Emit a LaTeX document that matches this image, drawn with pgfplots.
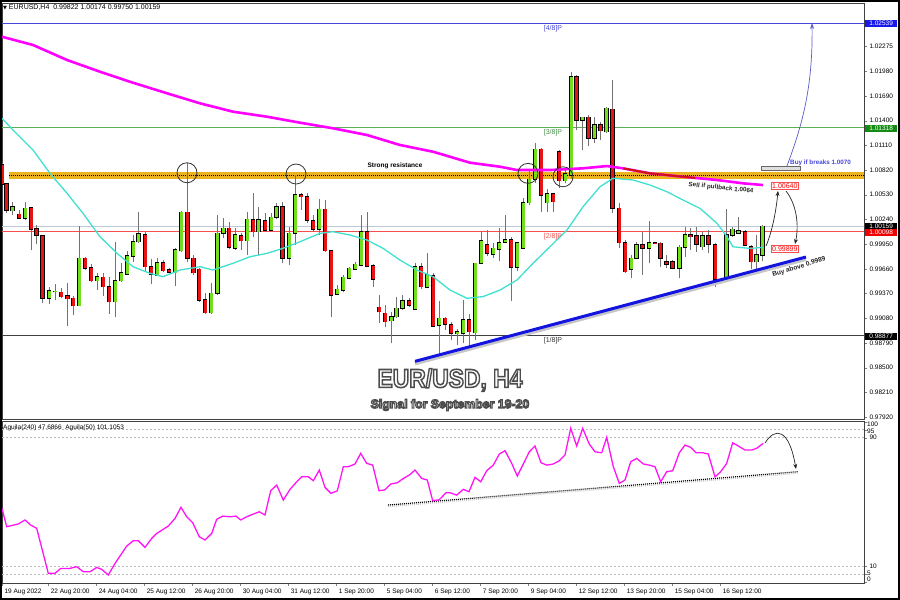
\documentclass[border=0pt]{standalone}
\usepackage{fontspec}
\setmainfont{Liberation Sans}
\newfontfamily\dejavu{DejaVu Sans}
\newfontfamily\titlebig[FakeBold=6]{Liberation Sans Bold}
\newfontfamily\titlesmall[FakeBold=9]{Liberation Sans Bold}
\usepackage{pgfplots}
\pgfplotsset{compat=1.18}
\usepackage{pgfplotstable}
\usetikzlibrary{arrows.meta}

\definecolor{bull}{RGB}{115,222,30}
\definecolor{bear}{RGB}{230,20,20}
\definecolor{maslow}{RGB}{255,0,255}
\definecolor{mafast}{RGB}{64,224,208}
\definecolor{lvlblue}{RGB}{70,70,220}
\definecolor{lvlgreen}{RGB}{90,175,90}
\definecolor{lvlred}{RGB}{245,80,80}
\definecolor{lastpx}{RGB}{190,200,215}
\definecolor{resist}{RGB}{235,180,30}
\definecolor{trend}{RGB}{20,20,225}
\definecolor{aguila}{RGB}{255,20,245}
\definecolor{arrowblue}{RGB}{90,90,200}

% H4 candles: x = bar position, o h l c = prices
\pgfplotstableread{
x o h l c
12.7 1.00342 1.00448 1.00292 1.00389
25 1.00253 1.00448 1.00233 1.00371
49 0.99314 0.99450 0.99247 0.99403
55 0.99391 0.99482 0.99294 0.99396
79 0.99227 1.00163 0.99224 0.99784
97 0.99521 0.99607 0.99411 0.99568
115 0.99274 0.99978 0.99091 0.99521
121 0.99521 0.99725 0.99509 0.99615
127 0.99599 0.99873 0.99588 0.99811
133 0.99811 1.00057 0.99744 0.99978
138.7 0.99978 1.00331 0.99960 1.00069
157 0.99588 0.99784 0.99576 0.99732
175 0.99615 0.99901 0.99458 0.99881
181 0.99873 1.00339 0.99861 1.00324
211 0.99145 0.99497 0.99130 0.99373
217.3 0.99373 1.00292 0.99353 1.00077
223.3 1.00077 1.00253 1.00018 1.00136
235 0.99901 1.00136 0.99881 1.00057
247 0.99990 1.00331 0.99822 1.00241
258.7 1.00096 1.00389 0.99822 1.00233
271 1.00116 1.00312 1.00108 1.00265
276.7 1.00265 1.00436 1.00241 1.00389
289 0.99784 1.00155 0.99705 1.00077
295 1.00077 1.00762 0.99940 1.00527
319 1.00124 1.00476 1.00057 1.00359
337 0.99361 0.99470 0.99353 0.99420
343 0.99411 0.99588 0.99391 0.99560
349 0.99549 0.99678 0.99537 0.99666
355 0.99658 0.99744 0.99646 0.99713
361 0.99705 1.00292 0.99693 1.00096
391.7 0.99051 0.99157 0.98786 0.99098
396.7 0.99098 0.99333 0.99083 0.99197
402.7 0.99197 0.99353 0.99177 0.99286
415 0.99185 0.99725 0.99177 0.99685
427 0.99443 0.99849 0.99431 0.99588
439 0.99001 0.99286 0.98660 0.99079
457 0.98898 0.98950 0.98766 0.98922
463 0.98903 0.99294 0.98786 0.99059
475 0.98910 0.99732 0.98824 0.99725
481 0.99725 1.00108 0.99717 0.99987
493 0.99834 0.99960 0.99784 0.99901
499 0.99889 1.00136 0.99755 0.99967
505 0.99971 1.00292 0.99960 0.99998
517 0.99678 0.99978 0.99638 0.99967
523 0.99901 1.00488 0.99889 1.00436
529 1.00436 1.00828 1.00409 1.00711
535 1.00711 1.01141 1.00664 1.01063
547 1.00436 1.00594 1.00331 1.00538
565 1.00695 1.00840 1.00664 1.00773
571 1.00762 1.01974 1.00726 1.01916
582.7 1.01407 1.01446 1.01055 1.01439
594.3 1.01192 1.01446 1.01141 1.01349
606.7 1.01270 1.01563 1.01251 1.01545
631 0.99654 0.99822 0.99549 0.99784
636.7 0.99784 0.99978 0.99772 0.99940
649 0.99901 1.00225 0.99725 0.99967
679.3 0.99666 0.99940 0.99549 0.99913
685 0.99913 1.00155 0.99802 1.00057
702.7 0.99920 1.00096 0.99881 1.00045
726.7 0.99537 1.00359 0.99529 1.00057
732.7 1.00057 1.00155 1.00037 1.00124
738.3 1.00077 1.00268 1.00069 1.00108
756.7 0.99744 1.00057 0.99654 0.99822
762.7 0.99822 1.00174 0.99750 1.00159
}\bulltab

\pgfplotstableread{
x o h l c
2 1.00879 1.00902 1.00644 1.00656
6.7 1.00656 1.00668 1.00312 1.00351
19 1.00300 1.00351 1.00241 1.00253
31 1.00378 1.00386 0.99881 1.00124
36.7 1.00128 1.00175 0.99948 1.00057
42.7 1.00045 1.00057 0.99262 0.99314
61 0.99384 0.99431 0.99314 0.99333
67.3 0.99341 0.99490 0.98992 0.99309
73 0.99314 0.99341 0.99118 0.99227
85 0.99784 0.99802 0.99646 0.99666
91 0.99673 0.99717 0.99509 0.99521
103 0.99560 0.99607 0.99341 0.99450
109 0.99450 0.99560 0.99130 0.99274
145 1.00057 1.00096 0.99626 0.99685
151 0.99685 0.99772 0.99482 0.99599
163 0.99732 0.99764 0.99623 0.99638
169 0.99646 0.99666 0.99607 0.99619
187.3 1.00324 1.00899 0.99744 0.99784
193.3 0.99784 0.99822 0.99588 0.99615
199 0.99654 0.99670 0.99274 0.99294
205 0.99294 0.99373 0.99130 0.99145
229 1.00136 1.00213 0.99889 0.99913
241 1.00045 1.00077 0.99881 0.99990
253 1.00233 1.00547 1.00037 1.00096
265 1.00225 1.00312 1.00096 1.00116
282.7 1.00389 1.00448 0.99725 0.99784
301 1.00527 1.00547 1.00351 1.00507
307 1.00507 1.00547 1.00195 1.00233
313 1.00222 1.00292 1.00096 1.00124
325 1.00359 1.00468 0.99858 0.99873
331 0.99873 0.99881 0.99098 0.99353
367 1.00096 1.00331 0.99681 0.99693
373 0.99693 0.99717 0.99450 0.99537
379 0.99208 0.99353 0.99020 0.99157
385 0.99138 0.99235 0.98981 0.99039
409 0.99286 0.99314 0.99215 0.99235
421 0.99685 0.99725 0.99420 0.99450
433 0.99576 0.99607 0.98981 0.98989
445 0.99079 0.99098 0.98942 0.99012
451 0.99001 0.99039 0.98824 0.98903
469 0.99059 0.99130 0.98754 0.98922
487 0.99940 1.00116 0.99811 0.99842
511 0.99998 1.00030 0.99286 0.99678
541 1.01063 1.01075 1.00331 1.00527
553 1.00538 1.00547 1.00331 1.00448
559 1.01035 1.01055 1.00605 1.00695
576.7 1.01916 1.01936 1.01290 1.01407
588.3 1.01439 1.01466 1.01102 1.01192
600.7 1.01349 1.01387 1.01172 1.01282
612.7 1.01533 1.01877 1.00312 1.00371
619 1.00371 1.00429 0.99901 0.99967
625 0.99967 0.99998 0.99615 0.99626
642.7 0.99940 1.00096 0.99588 0.99901
655 0.99967 0.99978 0.99951 0.99963
660.7 0.99960 0.99978 0.99685 0.99784
666.7 0.99744 0.99822 0.99666 0.99713
672.7 0.99744 0.99764 0.99654 0.99666
690.7 1.00057 1.00136 0.99881 1.00037
696.7 1.00045 1.00155 0.99861 0.99951
708.3 1.00045 1.00116 0.99842 0.99951
715 0.99940 0.99960 0.99450 0.99537
745 1.00096 1.00116 0.99928 0.99940
751 0.99920 0.99940 0.99654 0.99744
}\beartab

\pgfplotsset{
  candlebar/.style 2 args={only marks, mark size=0pt,
    mark options={draw=none, fill=none},
    error bars/.cd, y dir=plus, y explicit, error mark=none,
    error bar style={line width=#1, draw=#2}},
}

% white glyphs stroked in dark grey (fill colour, stroke colour)
\newcommand{\outlinedtext}[1]{\special{pdf:bcolor [1 1 1] [0.3 0.3 0.3]}#1\special{pdf:ecolor}}

\begin{document}
\begin{tikzpicture}

% ---------------- price panel ----------------
\begin{axis}[
    at={(2pt,-3pt)}, anchor=north west,
    scale only axis, width=862pt, height=416pt,
    xmin=2, xmax=864, ymin=0.97897, ymax=1.02781,
    axis line style={black!75, line width=0.6pt},
    xtick=\empty,
    ytick pos=right, yticklabel pos=right,
    tick align=outside, major tick length=3pt,
    ytick={1.02275,1.01980,1.01690,1.01400,1.01110,1.00820,1.00530,1.00240,
           0.99950,0.99660,0.99370,0.99080,0.98790,0.98500,0.98210,0.97920},
    yticklabels={1.02275,1.01980,1.01690,1.01400,1.01110,1.00820,1.00530,1.00240,
           0.99950,0.99660,0.99370,0.99080,0.98790,0.98500,0.98210,0.97920},
    yticklabel style={font=\fontsize{6.5}{7}\selectfont, xshift=-1pt},
]
% Murrey levels and last price
\addplot[lvlblue, line width=0.8pt] coordinates {(2,1.02539) (864,1.02539)};
\addplot[lvlgreen, line width=0.8pt] coordinates {(2,1.01318) (864,1.01318)};
\addplot[lastpx, line width=0.8pt] coordinates {(2,1.00159) (864,1.00159)};
\addplot[lvlred, line width=0.8pt] coordinates {(2,1.00098) (864,1.00098)};
\addplot[black!75, line width=0.8pt] coordinates {(2,0.98877) (864,0.98877)};

% strong resistance band
\addplot[resist, line width=7pt] coordinates {(9,1.00756) (864,1.00756)};
\addplot[black, line width=1.3pt, dash pattern=on 1pt off 1pt] coordinates {(9,1.00756) (864,1.00756)};

% candles: wicks, outlines, bodies
\addplot[candlebar={0.7pt}{black!55}] table[x=x, y=l, y error expr=\thisrow{h}-\thisrow{l}] {\bulltab};
\addplot[candlebar={0.7pt}{black!55}] table[x=x, y=l, y error expr=\thisrow{h}-\thisrow{l}] {\beartab};
\addplot[candlebar={4.6pt}{black}] table[x=x, y expr=\thisrow{o}-0.00007, y error expr=\thisrow{c}-\thisrow{o}+0.00014] {\bulltab};
\addplot[candlebar={3.0pt}{bull}] table[x=x, y=o, y error expr=\thisrow{c}-\thisrow{o}] {\bulltab};
\addplot[candlebar={4.6pt}{black}] table[x=x, y expr=\thisrow{c}-0.00007, y error expr=\thisrow{o}-\thisrow{c}+0.00014] {\beartab};
\addplot[candlebar={3.0pt}{bear}] table[x=x, y=c, y error expr=\thisrow{o}-\thisrow{c}] {\beartab};

% moving averages
\addplot[maslow, line width=2.6pt] coordinates {
 (2,1.02385) (33,1.02288) (67,1.02112) (100,1.01974) (133,1.01845) (167,1.01721)
 (200,1.01603) (233,1.01505) (267,1.01446) (300,1.01376) (333,1.01310) (367,1.01231)
 (400,1.01114) (433,1.01035) (450,1.00976) (470,1.00906) (500,1.00859) (517,1.00820)
 (550,1.00820) (583,1.00840) (607,1.00867) (623,1.00840) (650,1.00781) (683,1.00741)
 (717,1.00703) (743,1.00664) (763,1.00644)};
\addplot[bear!90!black, line width=2pt] coordinates {
 (623,1.00840) (650,1.00781) (683,1.00741) (695,1.00728)};
\addplot[mafast, line width=1.3pt] coordinates {
 (2,1.01427) (13,1.01290) (33,1.01055) (50,1.00781) (67,1.00547) (83,1.00312)
 (100,1.00037) (117,0.99843) (133,0.99685) (150,0.99607) (163,0.99568) (180,0.99646)
 (200,0.99685) (213,0.99646) (233,0.99725) (250,0.99802) (267,0.99842) (283,0.99901)
 (300,0.99978) (320,1.00077) (333,1.00096) (350,1.00057) (367,0.99998) (383,0.99901)
 (400,0.99763) (417,0.99646) (433,0.99568) (450,0.99411) (467,0.99314) (483,0.99334)
 (500,0.99411) (517,0.99529) (533,0.99725) (550,0.99920) (567,1.00116) (583,1.00389)
 (600,1.00624) (613,1.00723) (633,1.00703) (650,1.00644) (667,1.00565) (683,1.00468)
 (700,1.00370) (717,1.00194) (727,1.00037) (733,0.99919) (750,0.99900) (763,0.99912)};

% touches of the resistance
\addplot[only marks, mark=o, mark size=10pt, black!80, mark options={line width=0.8pt}]
  coordinates {(187,1.00788) (296,1.00773) (528,1.00781) (563,1.00741)};

% rising trend line
\addplot[gray!45, line width=3pt, yshift=-2.5pt] coordinates {(415,0.98574) (806,0.99799)};
\addplot[trend, line width=3pt] coordinates {(415,0.98574) (806,0.99799)};
\end{axis}

% ---------------- indicator panel ----------------
\begin{axis}[
    at={(2pt,-421pt)}, anchor=north west,
    scale only axis, width=862pt, height=162pt,
    xmin=2, xmax=864, ymin=-0.6, ymax=100.4,
    axis line style={black!75, line width=0.6pt},
    xtick pos=bottom, ytick pos=right, yticklabel pos=right,
    tick align=outside, major tick length=3pt,
    xtick={2,48.3,96.3,144.3,192.3,240.3,288.3,336.3,384.3,432.3,480.3,528.3,576.3,624.3,672.3,720.3},
    xticklabels={19 Aug 2022,22 Aug 20:00,24 Aug 04:00,25 Aug 12:00,26 Aug 20:00,30 Aug 04:00,
      31 Aug 12:00,1 Sep 20:00,5 Sep 04:00,6 Sep 12:00,7 Sep 20:00,9 Sep 04:00,12 Sep 12:00,
      13 Sep 20:00,15 Sep 04:00,16 Sep 12:00},
    xticklabel style={font=\fontsize{6.5}{7}\selectfont, anchor=north west, xshift=-1pt, yshift=1pt},
    ytick={0,5,10,90,95,100}, yticklabels={,,10,90,,},
    yticklabel style={font=\fontsize{6.5}{7}\selectfont, xshift=-1pt},
]
\addplot[gray!55, line width=0.5pt, dash pattern=on 2pt off 2pt] coordinates {(2,95) (864,95)};
\addplot[gray!55, line width=0.5pt, dash pattern=on 2pt off 2pt] coordinates {(2,90) (864,90)};
\addplot[gray!55, line width=0.5pt, dash pattern=on 2pt off 2pt] coordinates {(2,10) (864,10)};
\addplot[gray!55, line width=0.5pt, dash pattern=on 2pt off 2pt] coordinates {(2,5) (864,5)};

\addplot[gray!40, line width=1.4pt, yshift=-1.5pt, dash pattern=on 1pt off 1pt] coordinates {(388,48.0) (798,68.8)};
\addplot[black, line width=1.2pt, dash pattern=on 1pt off 1pt] coordinates {(388,48.0) (798,68.8)};

\addplot[aguila, line width=1.3pt] coordinates {
 (2,45.9) (6.7,34.5) (18.3,36.2) (25,38.7) (30.7,35.5) (36.7,33.5) (48.3,5.4) (55,5.4)
 (60.7,8.5) (70,8.5) (76.7,9.6) (83.3,6.4) (90,6.4) (96.7,9.1) (101.7,7.9) (108.3,4.4)
 (115,11.6) (126.7,22.4) (133.3,25.8) (138.3,25.8) (145,21.6) (151.7,27.2) (156.7,30.3)
 (168.3,34.9) (175,39.7) (181,46.6) (186.7,40.7) (192.7,37.0) (199.3,28.2) (205,26.2)
 (211.7,30.3) (216.7,39.1) (222.7,41.1) (230,40.7) (236,41.1) (240.7,38.7) (246.7,40.7)
 (253.3,42.4) (259.3,43.8) (265,41.8) (270.7,56.9) (276.7,60.5) (283.3,51.1) (290,57.8)
 (296.7,62.5) (301.7,65.6) (308.3,65.6) (313.3,63.2) (319.3,69.8) (325,59.0) (331,55.3)
 (337.3,56.9) (343.3,71.9) (348.3,71.9) (355,73.6) (360.7,80.2) (366.7,74.0) (372.7,72.9)
 (379,56.9) (385,57.5) (390.7,61.1) (397.3,61.9) (403.3,64.6) (409.3,66.7) (415,69.8)
 (421.7,64.6) (427.3,63.6) (432.7,50.7) (439.3,51.3) (446,55.7) (450,55.7) (456.7,54.2)
 (463.3,57.8) (469,56.3) (475,65.3) (480.7,62.5) (486.7,69.4) (493.3,72.9) (499.3,79.8)
 (505,81.9) (511.7,74.0) (517.3,66.1) (523.3,73.6) (529.3,81.2) (535,84.8) (541,74.4)
 (546.7,72.9) (553.3,73.6) (559.3,75.6) (565,79.2) (570.7,95.8) (576.7,84.8) (582.7,95.8)
 (589.3,86.0) (595,81.2) (601.7,80.6) (606.7,90.2) (613.3,71.9) (619.3,61.5) (625,63.6)
 (630.7,75.0) (636.7,77.1) (643.3,73.6) (649.3,72.9) (655,71.9) (660.7,62.5) (666.7,68.8)
 (672.7,69.4) (679.3,80.6) (685,85.4) (690.7,84.0) (696,80.6) (702.7,80.6) (708.3,79.8)
 (715,65.6) (720.7,68.8) (726.7,74.0) (732.7,86.8) (738.3,84.8) (745,82.3) (751.7,82.3)
 (756.7,83.4) (763.3,86.5)};
\end{axis}

% ---------------- annotations (pixel-like coordinates, y down) ----------------
\begin{scope}[x=1pt, y=-1pt, font=\fontsize{6.5}{7}\selectfont]
  % header texts
  \node[anchor=west, inner sep=0pt, font=\fontsize{7}{8}\selectfont] at (3,8)
    {{\dejavu\fontsize{5}{6}\selectfont ▼}\ EURUSD,H4\ \ 0.99822 1.00174 0.99750 1.00159};
  \node[anchor=west, inner sep=0pt] at (3,428) {Aguila(240) 47.6866\ \ Aguila(50) 101.1053};
  % crowded indicator scale labels
  \node[anchor=west, inner sep=0pt] at (867,424) {100};
  \node[anchor=west, inner sep=0pt] at (867,431.5) {95};
  \node[anchor=west, inner sep=0pt] at (867,572.8) {5};
  \node[anchor=west, inner sep=0pt] at (867,579.6) {0};

  % level labels
  \node[text=lvlblue, font=\fontsize{7}{8}\selectfont] at (553,29) {[4/8]P};
  \node[text=lvlgreen!80!black, font=\fontsize{7}{8}\selectfont] at (553,133) {[3/8]P};
  \node[text=lvlred, font=\fontsize{7}{8}\selectfont] at (553,237) {[2/8]P};
  \node[text=black!80, font=\fontsize{7}{8}\selectfont] at (553,341) {[1/8]P};

  % right-hand price boxes
  \node[anchor=west, fill={rgb,255:red,25;green,25;blue,235}, text=white, inner sep=1.2pt, minimum width=32pt] at (865,23) {1.02539};
  \node[anchor=west, fill={rgb,255:red,20;green,140;blue,20}, text=white, inner sep=1.2pt, minimum width=32pt] at (865,128) {1.01318};
  \node[anchor=west, fill=black, text=white, inner sep=1.2pt, minimum width=32pt] at (865,226) {1.00159};
  \node[anchor=west, fill={rgb,255:red,240;green,0;blue,0}, text=white, inner sep=1.2pt, minimum width=32pt] at (865,232.5) {1.00098};
  \node[anchor=west, fill=black, text=white, inner sep=1.2pt, minimum width=32pt] at (865,336) {0.98877};

  % signal annotations
  \node[font=\fontsize{6.5}{7}\bfseries] at (395,166) {Strong resistance};
  \draw[fill=gray!25, draw=black!60, line width=0.6pt] (761,166.7) rectangle (800,170.7);
  \node[anchor=west, inner sep=0pt, text=lvlblue, font=\fontsize{6.3}{7}\bfseries] at (790,163) {Buy if breaks 1.0070};
  \node[rotate=-6, text=black!85, font=\fontsize{6.3}{7}\bfseries] at (721,188) {Sell if pullback 1.0064};
  \node[rotate=17, text=black!85, font=\fontsize{6.6}{7}\bfseries] at (799,267) {Buy above 0.9989};
  \node[anchor=west, draw=lvlred, fill=white, text=red, inner sep=1pt, font=\fontsize{7}{8}\selectfont] at (771,186) {1.00640};
  \node[anchor=west, draw=lvlred, fill=white, text=red, inner sep=1pt, font=\fontsize{7}{8}\selectfont] at (771,249) {0.99899};

  \draw[arrowblue, line width=0.7pt, -{Stealth[length=6pt, width=4pt]}] (787,166) .. controls (801,128) and (813,90) .. (812,23);
  \draw[black!85, line width=0.7pt, -{Stealth[length=5pt, width=4pt]}] (766,246) .. controls (772,232) and (776,212) .. (778,191);
  \draw[black!85, line width=0.7pt, -{Stealth[length=5pt, width=4pt]}] (786,191) .. controls (797,205) and (799,226) .. (795,244);
  \draw[black!85, line width=0.7pt, -{Stealth[length=5pt, width=4pt]}] (765,443) .. controls (775,427) and (789,428) .. (796,469);

  % chart title: white letters with a dark outline
  \node at (450,380) {\scalebox{0.88}[1]{\titlebig\fontsize{26}{26}\selectfont\outlinedtext{EUR/USD, H4}}};
  \node at (450,405) {\titlesmall\fontsize{12.3}{13}\selectfont\outlinedtext{Signal for September 19-20}};

  % outer frame
  \draw[black, line width=2pt] (1,1) rectangle (899,599);
\end{scope}
\pgfresetboundingbox
\path[use as bounding box] (0pt,0pt) rectangle (900pt,-600pt);
\end{tikzpicture}
\end{document}
